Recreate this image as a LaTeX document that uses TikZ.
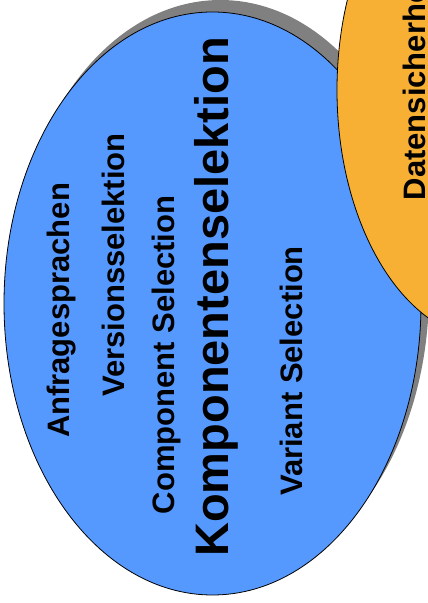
\documentclass[tikz,border=0pt]{standalone}
\usepackage{fontspec}
\setmainfont{Liberation Sans}
\definecolor{bubbleblue}{RGB}{85,153,255}
\definecolor{bubbleorange}{RGB}{247,176,52}
\definecolor{bubbleshadow}{RGB}{128,128,128}
\begin{document}
\begin{tikzpicture}[x=1pt,y=1pt,
  bubble/.style={draw=black,line width=0.8pt},
  shade/.style={fill=bubbleshadow},
  term/.style={rotate=90,inner sep=0pt,anchor=base,font=\fontsize{31}{31}\selectfont\bfseries},
  mainterm/.style={term,font=\fontsize{47}{47}\selectfont\bfseries}]
\useasboundingbox (0,0) rectangle (428,603);
\clip (0,0) rectangle (428,603);
% shadows
\fill[shade] (500,525) ellipse[x radius=155,y radius=250];
\fill[shade] (220.5,311.5) ellipse[x radius=208.5,y radius=291.5];
% main bubble
\draw[bubble,fill=bubbleblue] (212.5,299.5) ellipse[x radius=208.5,y radius=291.5];
% neighbouring bubble
\draw[bubble,fill=bubbleorange] (492,513) ellipse[x radius=155,y radius=250];
% labels
\node[term] (anfrage) at (69,292.5) {Anfragesprachen};
\node[term] (version) at (124,338) {Versionsselektion};
\node[term] (compsel) at (174,248) {Component Selection};
\node[mainterm] (kompsel) at (228,306) {Komponentenselektion};
\node[term] (variant) at (302,232) {Variant Selection};
\node[term] (daten) at (425,519) {Datensicherheit};
\end{tikzpicture}
\end{document}
